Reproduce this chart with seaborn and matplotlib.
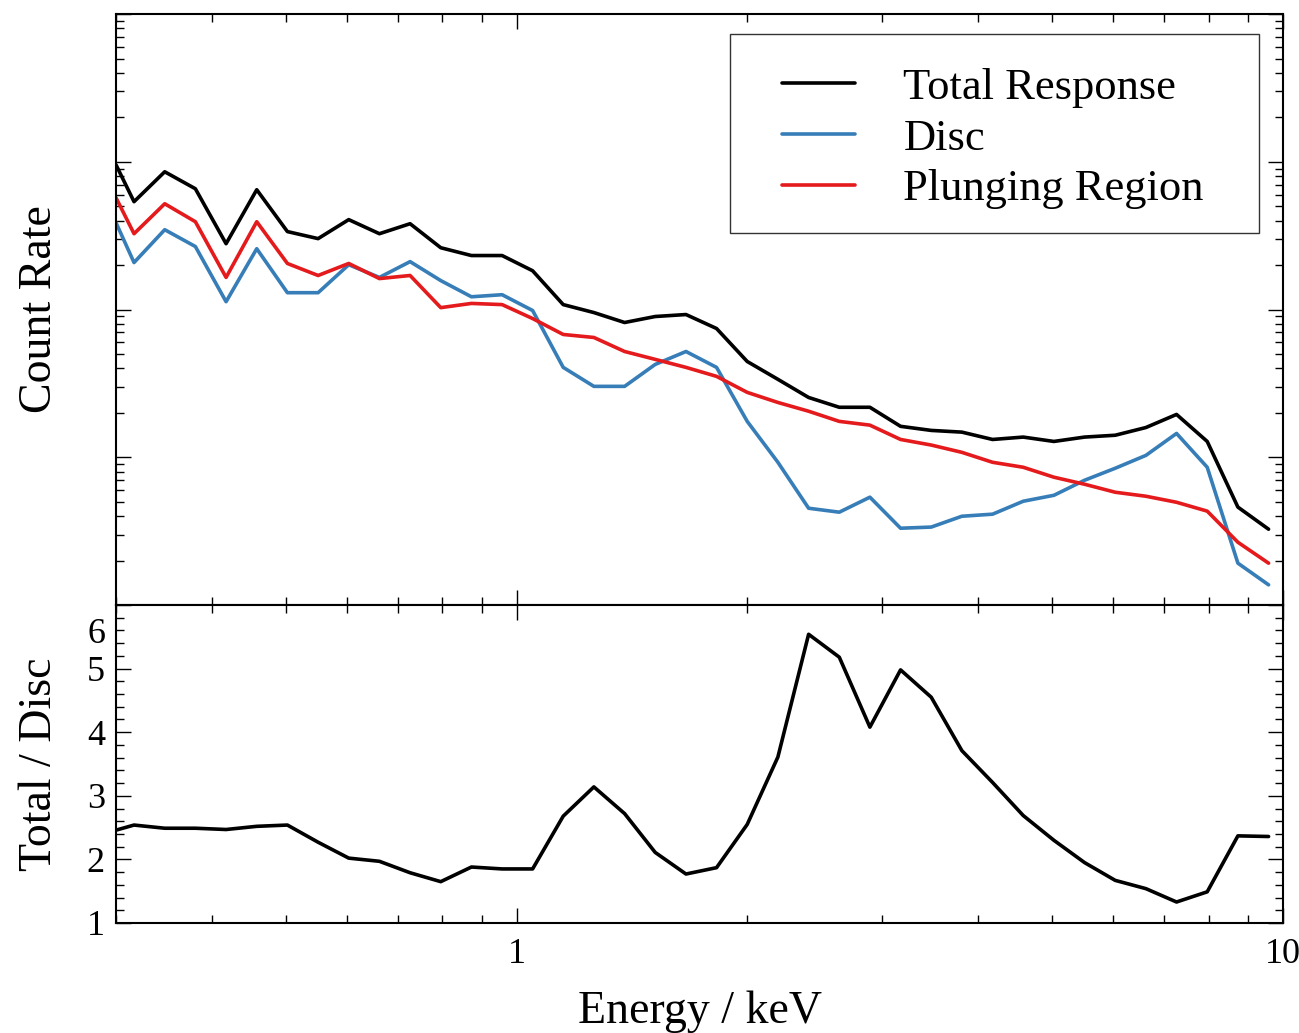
import numpy as np
import pandas as pd
import matplotlib
matplotlib.use("Agg")
import matplotlib.pyplot as plt
import matplotlib.patches as mpatches
from matplotlib.ticker import LogLocator, NullFormatter, FixedLocator, FixedFormatter, MultipleLocator
import seaborn as sns

# ---------------- data ----------------
energy_kev = [0.300, 0.3167, 0.3473, 0.3808, 0.4176, 0.4579, 0.5021, 0.5506, 0.6037,
              0.6620, 0.7259, 0.7960, 0.8728, 0.9571, 1.049, 1.150, 1.261, 1.383,
              1.516, 1.663, 1.823, 1.999, 2.192, 2.404, 2.636, 2.890, 3.169, 3.475,
              3.810, 4.178, 4.581, 5.024, 5.508, 6.040, 6.623, 7.262, 7.963, 8.732, 9.575]

total_response = [0.954, 0.537, 0.856, 0.657, 0.279, 0.647, 0.337, 0.302, 0.406, 0.326,
                  0.381, 0.262, 0.232, 0.232, 0.183, 0.108, 0.0954, 0.0817, 0.0897, 0.0925,
                  0.0744, 0.0445, 0.0337, 0.0254, 0.0218, 0.0218, 0.0162, 0.0152, 0.0148,
                  0.0132, 0.0137, 0.0128, 0.0137, 0.0141, 0.0159, 0.0195, 0.0128, 0.00460, 0.00326]

disc = [0.387, 0.208, 0.347, 0.267, 0.113, 0.258, 0.130, 0.130, 0.201, 0.165,
        0.211, 0.157, 0.122, 0.126, 0.0985, 0.0406, 0.0302, 0.0302, 0.0425, 0.0520,
        0.0406, 0.0175, 0.00925, 0.00452, 0.00425, 0.00537, 0.00331, 0.00337, 0.00399,
        0.00412, 0.00504, 0.00553, 0.00699, 0.00843, 0.0103, 0.0145, 0.00856, 0.00192, 0.00137]

plunging_region = [0.571, 0.326, 0.520, 0.393, 0.165, 0.393, 0.205, 0.170, 0.205, 0.162,
                   0.170, 0.103, 0.110, 0.108, 0.0869, 0.0678, 0.0647, 0.0520, 0.0460, 0.0406,
                   0.0353, 0.0275, 0.0235, 0.0205, 0.0175, 0.0165, 0.0132, 0.0121, 0.0108,
                   0.00925, 0.00856, 0.00733, 0.00657, 0.00580, 0.00545, 0.00496, 0.00432,
                   0.00266, 0.00192]

ratio_total_disc = [2.46, 2.54, 2.49, 2.49, 2.47, 2.52, 2.54, 2.27, 2.02, 1.97,
                    1.79, 1.65, 1.88, 1.85, 1.85, 2.68, 3.14, 2.72, 2.11, 1.77,
                    1.87, 2.55, 3.61, 5.54, 5.18, 4.08, 4.98, 4.55, 3.71, 3.21,
                    2.69, 2.30, 1.95, 1.67, 1.54, 1.33, 1.49, 2.37, 2.36]

series_names = ["Total Response", "Disc", "Plunging Region"]
series_colors = ["#000000", "#377eb8", "#e41a1c"]
ratio_yticks = [1, 2, 3, 4, 5, 6]
ratio_yticklabels = ["1", "2", "3", "4", "5", ""]
x_major_ticks = [1, 10]
x_major_labels = ["1", "10"]

# ---------------- style ----------------
sns.set_theme(style="white")
plt.rcParams["font.family"] = ["Liberation Serif", "DejaVu Serif"]
for key in ("text.color", "axes.labelcolor", "xtick.color", "ytick.color", "axes.edgecolor"):
    plt.rcParams[key] = "black"
plt.rcParams["axes.linewidth"] = 1.5

df = pd.DataFrame({
    "Energy": energy_kev * 3,
    "Rate": total_response + disc + plunging_region,
    "Component": sum([[n] * len(energy_kev) for n in series_names], []),
})

fig = plt.figure(figsize=(12.99, 10.33), dpi=100)
ax1 = fig.add_axes([0.0893, 0.4143, 0.8984, 0.5721])
ax2 = fig.add_axes([0.0893, 0.1065, 0.8984, 0.3078])

sns.lineplot(data=df, x="Energy", y="Rate", hue="Component", hue_order=series_names,
             palette=series_colors, estimator=None, sort=False, linewidth=2.6, ax=ax1)
sns.lineplot(x=energy_kev, y=ratio_total_disc, color="black", estimator=None, sort=False,
             linewidth=2.6, ax=ax2)

for ax in (ax1, ax2):
    ax.set_xscale("log")
    ax.set_xlim(0.3, 10)
    ax.xaxis.set_major_locator(FixedLocator(x_major_ticks))
    ax.xaxis.set_minor_locator(LogLocator(base=10, subs=np.arange(2, 10), numticks=20))
    ax.xaxis.set_minor_formatter(NullFormatter())
    ax.tick_params(which="both", direction="in", top=True, right=True,
                   bottom=True, left=True, color="black", labelcolor="black",
                   width=1.0, labelsize=26)
    ax.tick_params(axis="y", pad=8)
    ax.tick_params(axis="x", pad=11)
    ax.tick_params(which="major", length=11)
    ax.tick_params(which="minor", length=5.5)
    for s in ax.spines.values():
        s.set_linewidth(1.5)
        s.set_color("black")

# top panel
ax1.set_yscale("log")
ax1.set_ylim(1e-3, 10)
ax1.yaxis.set_major_locator(LogLocator(base=10, numticks=20))
ax1.yaxis.set_minor_locator(LogLocator(base=10, subs=np.arange(2, 10), numticks=20))
ax1.yaxis.set_major_formatter(NullFormatter())
ax1.yaxis.set_minor_formatter(NullFormatter())
ax1.xaxis.set_major_formatter(NullFormatter())
ax1.set_xlabel("")
ax1.set_ylabel("Count Rate", fontsize=33)
ax1.yaxis.set_label_coords(-0.047, 0.5)

# legend
handles, labels = ax1.get_legend_handles_labels()
ax1.legend(handles, labels, loc="center left", bbox_to_anchor=(0.552, 0.7895),
           borderpad=0, handlelength=1.64, handletextpad=1.08, labelspacing=0.24,
           fontsize=32, frameon=False)
ax1.add_patch(mpatches.Rectangle((0.526, 0.6294), 0.979 - 0.526, 0.966 - 0.6294,
                                 transform=ax1.transAxes, fill=False,
                                 edgecolor="#333333", linewidth=1.0, zorder=5))

# bottom panel
ax2.set_ylim(1, 6)
ax2.yaxis.set_major_locator(FixedLocator(ratio_yticks))
ax2.yaxis.set_major_formatter(FixedFormatter(ratio_yticklabels))
ax2.yaxis.set_minor_locator(MultipleLocator(0.2))
ax2.xaxis.set_major_formatter(FixedFormatter(x_major_labels))
ax2.annotate("6", xy=(0, 6), xycoords=("axes fraction", "data"), xytext=(-11, -13),
             textcoords="offset pixels", ha="right", va="top", fontsize=26)
ax2.set_ylabel("Total / Disc", fontsize=33)
ax2.yaxis.set_label_coords(-0.047, 0.5)
ax2.set_xlabel("Energy / keV", fontsize=33)
ax2.xaxis.set_label_coords(0.5, -0.212)

fig.savefig("out.png", dpi=100)
